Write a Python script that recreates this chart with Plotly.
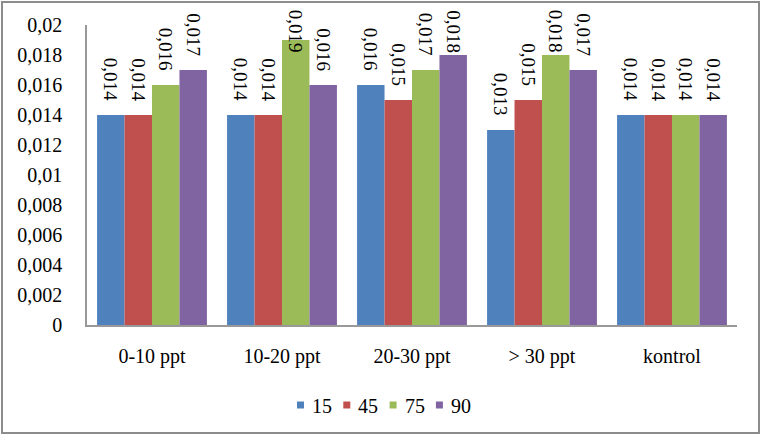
import plotly.graph_objects as go

categories = ["0-10 ppt", "10-20 ppt", "20-30 ppt", "> 30 ppt", "kontrol"]
series_names = ["15", "45", "75", "90"]
s15 = [0.014, 0.014, 0.016, 0.013, 0.014]
s45 = [0.014, 0.014, 0.015, 0.015, 0.014]
s75 = [0.016, 0.019, 0.017, 0.018, 0.014]
s90 = [0.017, 0.016, 0.018, 0.017, 0.014]
tick_vals = [0, 0.002, 0.004, 0.006, 0.008, 0.01, 0.012, 0.014, 0.016, 0.018, 0.02]
tick_text = ["0", "0,002", "0,004", "0,006", "0,008", "0,01", "0,012", "0,014", "0,016", "0,018", "0,02"]
colors = ["#4F81BD", "#C0504D", "#9BBB59", "#8064A2"]

FONT = "Liberation Serif, Times New Roman, Tinos, DejaVu Serif, serif"
W, H = 764, 436
ML, MR, MT, MB = 87, 27, 25, 111
PW, PH = W - ML - MR, H - MT - MB
YMAX = 0.02
BARGAP = 0.155
px = YMAX / PH               # data units per pixel
label_gap = 12 * px          # space between bar top and label
label_cap = 0.018            # labels never start above this (keeps them inside the chart)


def paper_x(xpix):
    return (xpix - ML) / PW


def paper_y(ypix):
    return (H - MB - ypix) / PH


all_series = [s15, s45, s75, s90]
fig = go.Figure()
for name, vals, col in zip(series_names, all_series, colors):
    fig.add_trace(go.Bar(
        x=categories, y=vals, name=name, marker_color=col,
        marker_line_width=0, showlegend=False,
    ))

bar_w = (1 - BARGAP) / len(all_series)
annotations = []
for j, vals in enumerate(all_series):
    for i, v in enumerate(vals):
        annotations.append(dict(
            x=i + (j - (len(all_series) - 1) / 2) * bar_w,
            y=min(v + label_gap, label_cap),
            xref="x", yref="y",
            text=f"{v:.3f}".replace(".", ","),
            textangle=90, showarrow=False,
            xanchor="center", yanchor="bottom",
            font=dict(family=FONT, size=19, color="black"),
        ))

# legend drawn as small squares + labels, centred under the plot like the original
shapes = [dict(type="rect", xref="paper", yref="paper",
               x0=paper_x(2), x1=paper_x(759), y0=paper_y(433), y1=paper_y(2),
               line=dict(color="#8c8c8c", width=2), fillcolor="rgba(0,0,0,0)", layer="below")]
leg_x0, leg_step, leg_y = 297, 46.3, 405
for k, (name, col) in enumerate(zip(series_names, colors)):
    sx = leg_x0 + k * leg_step
    shapes.append(dict(type="rect", xref="paper", yref="paper",
                       x0=paper_x(sx), x1=paper_x(sx + 7),
                       y0=paper_y(leg_y + 3.5), y1=paper_y(leg_y - 3.5),
                       line=dict(width=0), fillcolor=col))
    annotations.append(dict(x=paper_x(sx + 13), y=paper_y(leg_y + 1), xref="paper", yref="paper",
                            text=name, showarrow=False, xanchor="left", yanchor="middle",
                            font=dict(family=FONT, size=20, color="black")))

fig.update_layout(
    width=W, height=H,
    barmode="group", bargap=BARGAP, bargroupgap=0,
    plot_bgcolor="white", paper_bgcolor="white",
    margin=dict(l=ML, r=MR, t=MT, b=MB),
    font=dict(family=FONT, size=20, color="black"),
    showlegend=False,
    xaxis=dict(showline=True, linecolor="#999999", linewidth=2, ticks="", showgrid=False,
               tickfont=dict(family=FONT, size=20), ticklabelstandoff=12),
    yaxis=dict(range=[0, YMAX], tickvals=tick_vals, ticktext=tick_text, showline=True,
               linecolor="#999999", linewidth=1.5, ticks="", showgrid=False, zeroline=False,
               tickfont=dict(family=FONT, size=20), ticklabelstandoff=19),
    annotations=annotations,
    shapes=shapes,
)
fig.write_html("out.html", post_script="document.body.style.margin='0px';",
               config={"displayModeBar": False})
